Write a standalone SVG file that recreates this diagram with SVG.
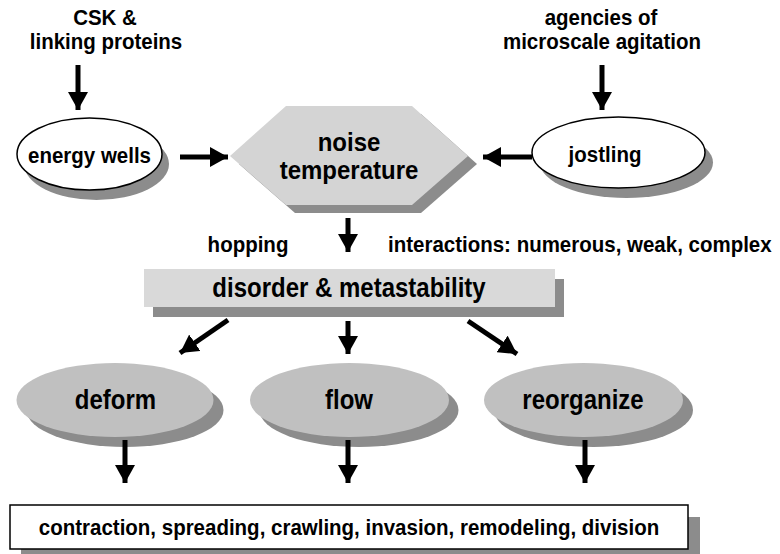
<svg xmlns="http://www.w3.org/2000/svg" width="780" height="554" viewBox="0 0 780 554">
  <defs>
    <marker id="ah" viewBox="0 0 18 20" refX="18" refY="10" markerWidth="18" markerHeight="20" markerUnits="userSpaceOnUse" orient="auto">
      <path d="M0,0 L18,10 L0,20 Z" fill="#000"/>
    </marker>
  </defs>
  <style>
    text { font-family: "Liberation Sans", Arial, sans-serif; font-weight: bold; fill: #000; text-anchor: middle; }
    .s { font-size: 20.5px; }
    .l { font-size: 24px; }
    .shadow { fill: #8c8c8c; stroke: none; }
    .wht { fill: #fff; stroke: #000; stroke-width: 1.5; }
    .gry { fill: #c0c0c0; stroke: none; }
    .arrow { stroke: #000; stroke-width: 5; fill: none; marker-end: url(#ah); }
  </style>
  <rect width="780" height="554" fill="#fff"/>

  <g id="csk-label">
    <text class="s" transform="translate(105,25) scale(1,1.06)">CSK &amp;</text>
    <text class="s" transform="translate(106,49) scale(1,1.06)">linking proteins</text>
  </g>
  <g id="agencies-label">
    <text class="s" transform="translate(601,25) scale(1,1.06)">agencies of</text>
    <text class="s" transform="translate(602,49) scale(1,1.06)">microscale agitation</text>
  </g>

  <g id="energy-wells">
    <ellipse class="shadow" cx="96.5" cy="164" rx="72.5" ry="36"/>
    <ellipse class="wht" cx="89.5" cy="154" rx="72.5" ry="36"/>
    <text class="s" transform="translate(89.5,163) scale(1,1.12)">energy wells</text>
  </g>

  <g id="jostling">
    <ellipse class="shadow" cx="626.5" cy="162.5" rx="86.5" ry="35.5"/>
    <ellipse class="wht" cx="618.5" cy="152.5" rx="86.5" ry="35.5"/>
    <text class="s" transform="translate(605,162) scale(1,1.12)">jostling</text>
  </g>

  <g id="noise-temperature">
    <polygon class="shadow" points="239,164 295,114 421,114 477,164 421,213 295,213"/>
    <polygon fill="#d4d4d4" points="230,156 286,106 412,106 468,156 412,205 286,205"/>
    <text class="l" transform="translate(349,151) scale(1,1.1)">noise</text>
    <text class="l" transform="translate(349,179) scale(1,1.1)">temperature</text>
  </g>

  <g id="hopping-label">
    <text class="s" transform="translate(248,252) scale(1,1.12)">hopping</text>
  </g>
  <g id="interactions-label">
    <text class="s" transform="translate(388,252) scale(1,1.12)" style="text-anchor:start">interactions: numerous, weak, complex</text>
  </g>

  <g id="disorder">
    <rect class="shadow" x="153" y="279" width="411" height="38"/>
    <rect fill="#d9d9d9" x="144" y="269" width="411" height="38"/>
    <text class="l" transform="translate(349,297) scale(1,1.12)">disorder &amp; metastability</text>
  </g>

  <g id="deform">
    <ellipse class="shadow" cx="125" cy="410" rx="98.5" ry="37"/>
    <ellipse class="gry" cx="115" cy="400" rx="98.5" ry="37"/>
    <text class="l" transform="translate(115.5,409) scale(1,1.12)">deform</text>
  </g>
  <g id="flow">
    <ellipse class="shadow" cx="359" cy="410" rx="99.5" ry="37"/>
    <ellipse class="gry" cx="349.5" cy="400" rx="99.5" ry="37"/>
    <text class="l" transform="translate(349,409) scale(1,1.12)">flow</text>
  </g>
  <g id="reorganize">
    <ellipse class="shadow" cx="593.5" cy="410" rx="99.5" ry="37"/>
    <ellipse class="gry" cx="583.5" cy="400" rx="99.5" ry="37"/>
    <text class="l" transform="translate(583,409) scale(1,1.12)">reorganize</text>
  </g>

  <g id="outcomes">
    <rect class="shadow" x="21" y="517" width="679" height="44"/>
    <rect class="wht" x="10" y="505" width="678" height="44"/>
    <text class="s" transform="translate(349,535) scale(1,1.12)">contraction, spreading, crawling, invasion, remodeling, division</text>
  </g>

  <g id="connectors">
    <line class="arrow" x1="78" y1="65" x2="78" y2="110"/>
    <line class="arrow" x1="602" y1="65" x2="602" y2="110"/>
    <line class="arrow" x1="180" y1="157" x2="228" y2="157"/>
    <line class="arrow" x1="532" y1="157" x2="483" y2="157"/>
    <line class="arrow" x1="348" y1="218" x2="348" y2="252"/>
    <line class="arrow" x1="228" y1="320" x2="180" y2="353"/>
    <line class="arrow" x1="348" y1="321" x2="348" y2="354"/>
    <line class="arrow" x1="468" y1="321" x2="517" y2="354"/>
    <line class="arrow" x1="125" y1="440" x2="125" y2="483"/>
    <line class="arrow" x1="348" y1="440" x2="348" y2="483"/>
    <line class="arrow" x1="585" y1="440" x2="585" y2="483"/>
  </g>
</svg>
